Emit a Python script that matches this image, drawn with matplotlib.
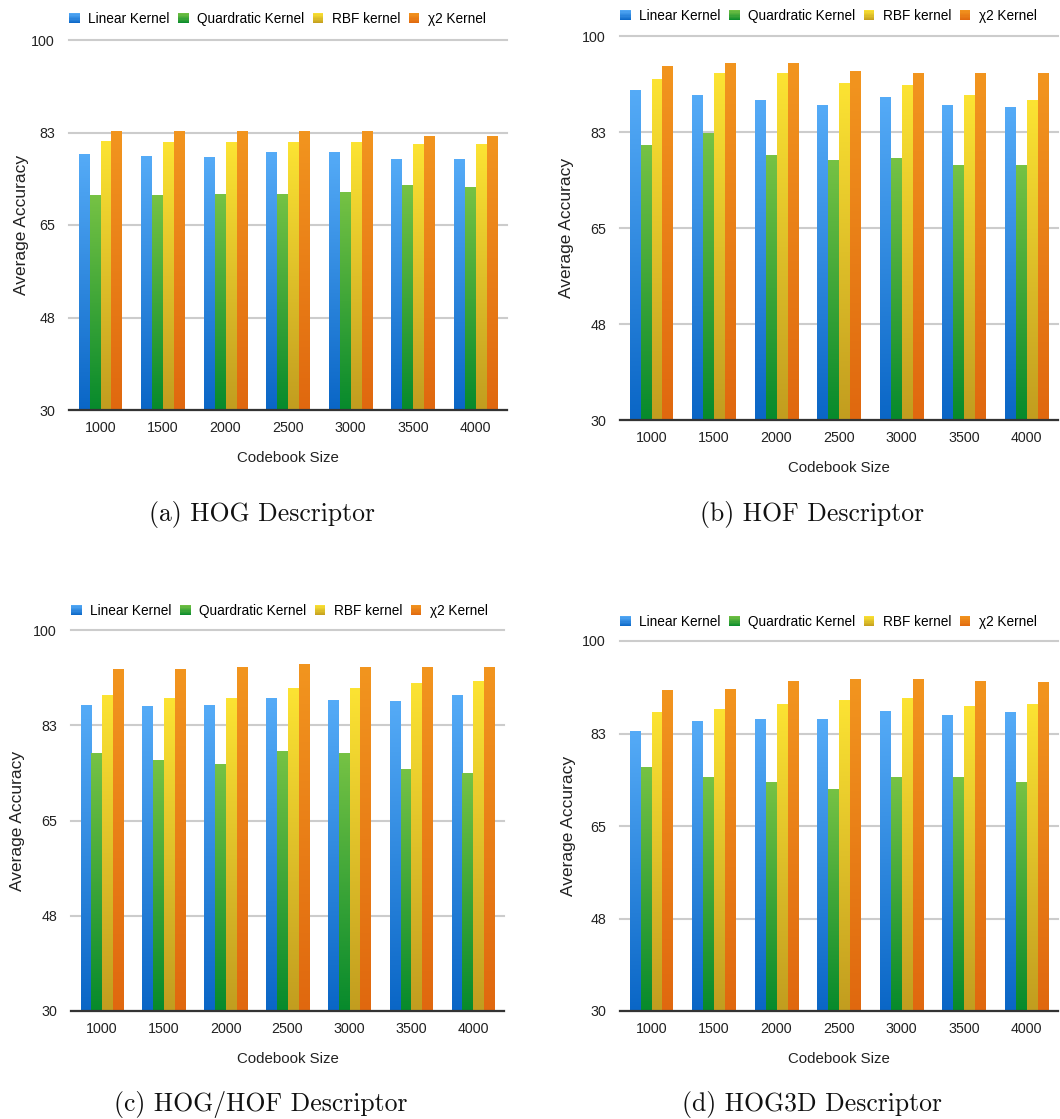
import matplotlib
matplotlib.use("Agg")
import matplotlib.pyplot as plt
import numpy as np
from matplotlib.colors import LinearSegmentedColormap
from matplotlib.patches import Patch, Rectangle
from matplotlib.legend_handler import HandlerBase

plt.rcParams['font.family'] = ['Liberation Sans', 'DejaVu Sans']

codebook_sizes = ['1000', '1500', '2000', '2500', '3000', '3500', '4000']
kernels = ['Linear Kernel', 'Quardratic Kernel', 'RBF kernel', 'χ2 Kernel']
y_ticks = [30, 47.5, 65, 82.5, 100]
y_tick_labels = ['30', '48', '65', '83', '100']

# (a) HOG
hog_linear = [78.3, 77.9, 77.7, 78.7, 78.7, 77.4, 77.4]
hog_quad = [70.6, 70.6, 70.8, 70.8, 71.1, 72.5, 72.1]
hog_rbf = [80.8, 80.6, 80.6, 80.6, 80.6, 80.2, 80.2]
hog_chi2 = [82.6, 82.6, 82.6, 82.6, 82.6, 81.7, 81.7]

# (b) HOF
hof_linear = [90.1, 89.2, 88.3, 87.4, 88.7, 87.4, 87.0]
hof_quad = [80.1, 82.3, 78.2, 77.3, 77.7, 76.4, 76.4]
hof_rbf = [92.0, 93.2, 93.1, 91.4, 91.0, 89.2, 88.3]
hof_chi2 = [94.5, 94.9, 94.9, 93.6, 93.2, 93.2, 93.2]

# (c) HOG/HOF
hoghof_linear = [86.1, 85.9, 86.1, 87.4, 87.0, 86.8, 88.0]
hoghof_quad = [77.4, 76.1, 75.2, 77.6, 77.4, 74.3, 73.6]
hoghof_rbf = [88.0, 87.4, 87.4, 89.2, 89.2, 90.1, 90.5]
hoghof_chi2 = [92.7, 92.7, 93.1, 93.6, 93.2, 93.1, 93.1]

# (d) HOG3D
hog3d_linear = [82.9, 84.8, 85.2, 85.2, 86.7, 86.0, 86.4]
hog3d_quad = [76.1, 74.2, 73.3, 71.9, 74.2, 74.2, 73.3]
hog3d_rbf = [86.4, 87.0, 87.9, 88.7, 89.2, 87.7, 87.9]
hog3d_chi2 = [90.6, 90.8, 92.3, 92.7, 92.7, 92.3, 92.1]

# top / bottom colours of the gradient fill
grad_colors = [('#55abf7', '#0a66c6'),
               ('#76c244', '#078a2c'),
               ('#fce333', '#c29d1f'),
               ('#f2951f', '#e0680f')]

W, H = 1060, 1119

# pixel boxes: left, right, top, bottom
panels = [
    dict(series=[hog_linear, hog_quad, hog_rbf, hog_chi2], box=(69, 507, 40, 410),
         leg=21, ylab=22, cap=(262, 514), title='(a) HOG Descriptor'),
    dict(series=[hof_linear, hof_quad, hof_rbf, hof_chi2], box=(620, 1058, 36, 420),
         leg=20, ylab=566, cap=(812, 514), title='(b) HOF Descriptor'),
    dict(series=[hoghof_linear, hoghof_quad, hoghof_rbf, hoghof_chi2], box=(71, 504, 630, 1011),
         leg=19, ylab=18, cap=(261, 1105), title='(c) HOG/HOF Descriptor'),
    dict(series=[hog3d_linear, hog3d_quad, hog3d_rbf, hog3d_chi2], box=(620, 1058, 641, 1011),
         leg=19, ylab=568, cap=(812, 1105), title='(d) HOG3D Descriptor'),
]


class GradHandler(HandlerBase):
    # legend square with the same top-to-bottom gradient as the bars
    def create_artists(self, legend, orig_handle, xdescent, ydescent,
                       width, height, fontsize, trans):
        top, bottom = orig_handle.grad
        cm = LinearSegmentedColormap.from_list('g', [bottom, top])
        n = 8
        arts = []
        for k in range(n):
            r = Rectangle((-xdescent, -ydescent + height * k / n), width, height / n + 0.2,
                          facecolor=cm((k + 0.5) / n), edgecolor='none', transform=trans)
            arts.append(r)
        return arts


fig = plt.figure(figsize=(W / 100, H / 100), dpi=100)
x = np.arange(len(codebook_sizes))
bw = 0.175
gap = 0.004

for p in panels:
    l, r, t, b = p['box']
    ax = fig.add_axes([l / W, 1 - b / H, (r - l) / W, (b - t) / H])
    for i, vals in enumerate(p['series']):
        top, bottom = grad_colors[i]
        cm = LinearSegmentedColormap.from_list('k%d' % i, [bottom, top])
        vals = np.array(vals)
        bars = ax.bar(x + (i - 1.5) * bw, vals - 30, bottom=30, width=bw,
                      facecolor='none', edgecolor='none')
        grad = np.linspace(0, 1, 128).reshape(-1, 1)
        for rect in bars:
            x0 = rect.get_x()
            ax.imshow(grad, extent=(x0 + gap, x0 + rect.get_width() - gap, 30, 30 + rect.get_height()),
                      origin='lower', aspect='auto', cmap=cm, zorder=2)
    ax.set_xlim(-0.5, len(codebook_sizes) - 0.5)
    ax.set_ylim(30, 100)
    ax.set_xticks(x)
    ax.set_xticklabels(codebook_sizes)
    ax.set_yticks(y_ticks)
    ax.set_yticklabels(y_tick_labels)
    ax.tick_params(axis='both', length=0, labelsize=10.3, colors='#222222')
    ax.tick_params(axis='x', pad=8)
    ax.tick_params(axis='y', pad=10)
    ax.yaxis.grid(True, color='#cccccc', linewidth=1.5)
    for gl in ax.get_ygridlines():
        gl.set_clip_on(False)
    ax.set_axisbelow(True)
    for s in ['top', 'left', 'right']:
        ax.spines[s].set_visible(False)
    ax.spines['bottom'].set_color('#333333')
    ax.spines['bottom'].set_linewidth(1.6)
    ax.spines['bottom'].set_zorder(4)

    ax.set_xlabel('Codebook Size', fontsize=10.8, color='#222222')
    ax.xaxis.set_label_coords(0.5, -41 / (b - t))
    fig.text(p['ylab'] / W, 1 - (t + b) / 2 / H, 'Average Accuracy', rotation=90,
             ha='center', va='center', fontsize=12.5, color='#222222')

    handles = []
    for i, name in enumerate(kernels):
        h = Patch(facecolor=grad_colors[i][0], label=name)
        h.grad = grad_colors[i]
        handles.append(h)
    ax.legend(handles=handles, loc='center left', bbox_to_anchor=(0, 1 + p['leg'] / (b - t)),
              ncol=4, frameon=False, borderpad=0, borderaxespad=0, fontsize=9.8,
              handlelength=0.78, handleheight=0.78, handletextpad=0.6,
              columnspacing=0.65, handler_map={Patch: GradHandler()})

    fig.text(p['cap'][0] / W, 1 - p['cap'][1] / H, p['title'], family='cmr10',
             fontsize=18.5, ha='center', va='center', color='#111111')

fig.savefig('out.png', dpi=100)
